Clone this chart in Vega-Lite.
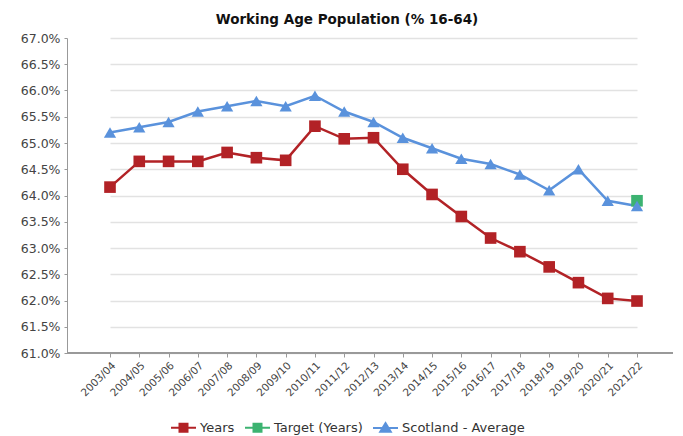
{
  "$schema": "https://vega.github.io/schema/vega-lite/v6.json",
  "width": 606,
  "height": 315,
  "autosize": "none",
  "padding": {"left": 67, "top": 38, "right": 10, "bottom": 83},
  "background": "white",
  "title": {"text": "Working Age Population (% 16-64)", "font": "DejaVu Sans", "fontSize": 13.5, "fontWeight": "bold", "color": "#111", "anchor": "middle", "dx": -23, "offset": 6},
  "config": {"view": {"stroke": null}, "font": "DejaVu Sans"},
  "data": {"values": [
    {"period": "2003/04", "series": "Years", "value": 64.16},
    {"period": "2004/05", "series": "Years", "value": 64.65},
    {"period": "2005/06", "series": "Years", "value": 64.65},
    {"period": "2006/07", "series": "Years", "value": 64.65},
    {"period": "2007/08", "series": "Years", "value": 64.82},
    {"period": "2008/09", "series": "Years", "value": 64.72},
    {"period": "2009/10", "series": "Years", "value": 64.67},
    {"period": "2010/11", "series": "Years", "value": 65.32},
    {"period": "2011/12", "series": "Years", "value": 65.08},
    {"period": "2012/13", "series": "Years", "value": 65.10},
    {"period": "2013/14", "series": "Years", "value": 64.50},
    {"period": "2014/15", "series": "Years", "value": 64.02},
    {"period": "2015/16", "series": "Years", "value": 63.60},
    {"period": "2016/17", "series": "Years", "value": 63.19},
    {"period": "2017/18", "series": "Years", "value": 62.93},
    {"period": "2018/19", "series": "Years", "value": 62.64},
    {"period": "2019/20", "series": "Years", "value": 62.34},
    {"period": "2020/21", "series": "Years", "value": 62.04},
    {"period": "2021/22", "series": "Years", "value": 61.99},
    {"period": "2021/22", "series": "Target (Years)", "value": 63.9},
    {"period": "2003/04", "series": "Scotland - Average", "value": 65.2},
    {"period": "2004/05", "series": "Scotland - Average", "value": 65.3},
    {"period": "2005/06", "series": "Scotland - Average", "value": 65.4},
    {"period": "2006/07", "series": "Scotland - Average", "value": 65.6},
    {"period": "2007/08", "series": "Scotland - Average", "value": 65.7},
    {"period": "2008/09", "series": "Scotland - Average", "value": 65.8},
    {"period": "2009/10", "series": "Scotland - Average", "value": 65.7},
    {"period": "2010/11", "series": "Scotland - Average", "value": 65.9},
    {"period": "2011/12", "series": "Scotland - Average", "value": 65.6},
    {"period": "2012/13", "series": "Scotland - Average", "value": 65.4},
    {"period": "2013/14", "series": "Scotland - Average", "value": 65.1},
    {"period": "2014/15", "series": "Scotland - Average", "value": 64.9},
    {"period": "2015/16", "series": "Scotland - Average", "value": 64.7},
    {"period": "2016/17", "series": "Scotland - Average", "value": 64.6},
    {"period": "2017/18", "series": "Scotland - Average", "value": 64.4},
    {"period": "2018/19", "series": "Scotland - Average", "value": 64.1},
    {"period": "2019/20", "series": "Scotland - Average", "value": 64.5},
    {"period": "2020/21", "series": "Scotland - Average", "value": 63.9},
    {"period": "2021/22", "series": "Scotland - Average", "value": 63.8}
  ]},
  "encoding": {
    "x": {"field": "period", "type": "ordinal", "scale": {"type": "point", "range": [43, 570], "padding": 0},
      "axis": {"title": null, "labelAngle": -45, "labelFontSize": 10.5, "labelColor": "#444", "domain": false, "tickColor": "#999", "tickSize": 4, "labelPadding": 3, "grid": false}},
    "y": {"field": "value", "type": "quantitative", "scale": {"domain": [61, 67], "nice": false, "zero": false},
      "axis": {"title": null, "values": [61, 61.5, 62, 62.5, 63, 63.5, 64, 64.5, 65, 65.5, 66, 66.5, 67], "labelExpr": "format(datum.value, '.1f') + '%'", "labelFontSize": 12.5, "labelColor": "#444", "domainColor": "#999", "tickColor": "#999", "tickSize": 3, "gridColor": "#e2e2e2", "gridWidth": 1.5, "labelPadding": 4}},
    "color": {"field": "series", "type": "nominal", "scale": {"domain": ["Years", "Target (Years)", "Scotland - Average"], "range": ["#b22226", "#3cb371", "#5a92dc"]},
      "legend": {"title": null, "orient": "none", "legendX": 103, "legendY": 376, "padding": 0, "direction": "horizontal", "labelFontSize": 13, "labelColor": "#333", "labelOffset": 3, "symbolSize": 625, "columnPadding": 6,
        "symbolType": "M-1,0H-0.3M0.3,0H1M-0.32,-0.32H0.32V0.32H-0.32Z",
        "encode": {"symbols": {"update": {
          "shape": {"signal": "datum.value === 'Scotland - Average' ? 'M-1,0H-0.3M0.3,0H1M0,-0.38L0.42,0.3H-0.42Z' : 'M-1,0H-0.3M0.3,0H1M-0.32,-0.32H0.32V0.32H-0.32Z'"},
          "stroke": {"scale": "color", "field": "value"},
          "fill": {"scale": "color", "field": "value"},
          "strokeWidth": {"value": 2},
          "opacity": {"value": 1}
        }}}}}
  },
  "layer": [
    {"mark": {"type": "rule", "color": "#999", "strokeWidth": 1}, "encoding": {"y": {"datum": 61}, "color": {"value": "#999"}, "x": {"value": 0}, "x2": {"value": 606}}},
    {"mark": {"type": "line", "strokeWidth": 2.5}},
    {"transform": [{"filter": "datum.series !== 'Scotland - Average'"}], "mark": {"type": "point", "shape": "square", "filled": true, "opacity": 1, "size": 135}},
    {"transform": [{"filter": "datum.series === 'Scotland - Average'"}], "mark": {"type": "point", "shape": "triangle-up", "filled": true, "opacity": 1, "size": 150}}
  ]
}
